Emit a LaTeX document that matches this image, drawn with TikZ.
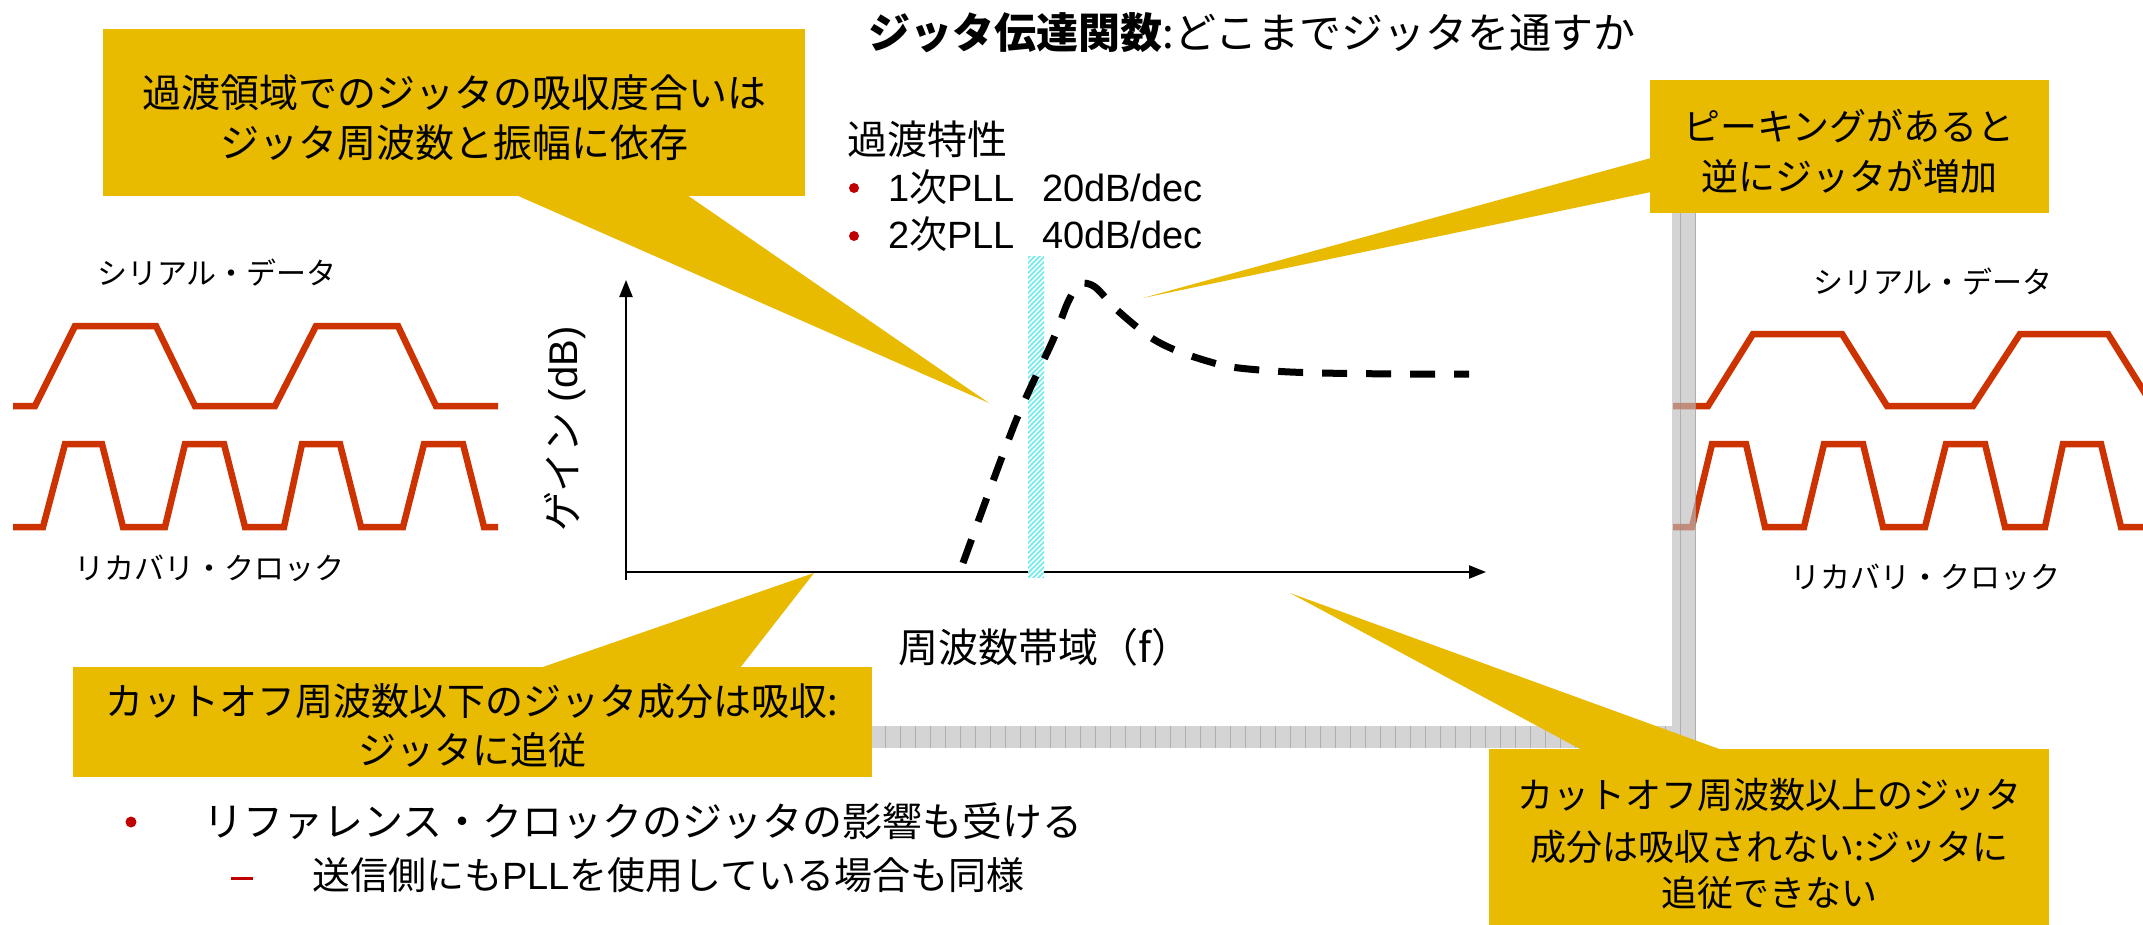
\documentclass[tikz,border=0pt]{standalone}
\usepackage{fontspec}
\setmainfont{Noto Sans CJK JP}
\newfontfamily\jpf{Noto Sans CJK JP}
\newfontfamily\lat{Liberation Sans}
\usetikzlibrary{arrows.meta}
\definecolor{callout}{RGB}{232,186,0}
\definecolor{wave}{RGB}{204,51,0}
\definecolor{bul}{RGB}{192,0,0}
\definecolor{bandc}{RGB}{110,236,236}
\newcommand{\setfs}[1]{\fontsize{#1}{#1}\selectfont}
\begin{document}
\begin{tikzpicture}[x=1pt,y=-1pt,
  txt/.style={inner sep=0pt,outer sep=0pt},
  wavepath/.style={draw=wave,line width=6.5pt,line join=miter},
  callbox/.style={fill=callout},
  axisline/.style={line width=2.2pt},
  curve/.style={line width=7pt,dash pattern=on 25pt off 19pt},
  hatch/.style={draw=bandc,line width=1.6pt}]
\useasboundingbox (0,0) rectangle (2143,925);
\fill[white] (0,0) rectangle (2143,925);

% ---------------- waveforms (left) ----------------
\draw[wavepath] (13,406) -- (35,406) -- (75,326) -- (156,326) -- (195,406) -- (275,406) -- (316,326) -- (398,326) -- (436,406) -- (498,406);
\draw[wavepath] (13,527) -- (43,527) -- (65,444) -- (102,444) -- (123,527) -- (165,527) -- (185,444) -- (224,444) -- (245,527) -- (284,527) -- (302,444) -- (340,444) -- (361,527) -- (403,527) -- (424,444) -- (463,444) -- (484,527) -- (498,527);
\node[txt] (sdL) at (217,273) {\setfs{30}シリアル・データ};
\node[txt] (rcL) at (209,568) {\setfs{30}リカバリ・クロック};

% ---------------- waveforms (right) ----------------
\draw[wavepath] (1673,406) -- (1708,406) -- (1753,334) -- (1842,334) -- (1887,406) -- (1973,406) -- (2020,334) -- (2108,334) -- (2153,406);
\draw[wavepath] (1673,527) -- (1692,527) -- (1712,444) -- (1746,444) -- (1765,527) -- (1804,527) -- (1824,444) -- (1863,444) -- (1883,527) -- (1925,527) -- (1946,444) -- (1985,444) -- (2005,527) -- (2045,527) -- (2063,444) -- (2101,444) -- (2121,527) -- (2150,527);
\node[txt] (sdR) at (1933,282) {\setfs{30}シリアル・データ};
\node[txt] (rcR) at (1925,577) {\setfs{30}リカバリ・クロック};

% ---------------- gray shadow frame ----------------
\begin{scope}
  \clip (1672,190) rectangle (1696,748) (860,726) rectangle (1696,748);
  \fill[black!26,opacity=0.65] (860,190) rectangle (1696,748);
  \draw[black!45,line width=0.8pt,opacity=0.5,step=15] (860,190) grid (1700,750);
\end{scope}

% ---------------- axes ----------------
\coordinate (ybot) at (626,580);
\coordinate (ytop) at (626,280);
\coordinate (xorg) at (626,572);
\coordinate (xtip) at (1486,572);
\draw[axisline,-{Triangle[length=17pt,width=13pt]}] (ybot) -- (ytop);
\draw[axisline,-{Triangle[length=17pt,width=13pt]}] (xorg) -- (xtip);

% cutoff band (hatched)
\fill[white] (1028,257) rectangle (1044,577);
\begin{scope}
  \clip (1028,257) rectangle (1044,577);
  \foreach \k in {0,5,...,345} {
    \draw[hatch] (1024,257+\k) -- (1048,233+\k);
  }
\end{scope}

% transfer curve
\draw[curve] plot[smooth,tension=0.5] coordinates {(963,563) (1015,423) (1053,340) (1068,302) (1080,284) (1095,287) (1117,310) (1150,337) (1180,352) (1226,366) (1273,371) (1320,373) (1400,374) (1469,374)};

\node[txt,rotate=90] (ylab) at (565,429) {\setfs{40}ゲイン\hspace{10pt}{\lat (dB)}};
\node[txt] (xlab) at (1045,647) {\setfs{40}周波数帯域（f）};

% ---------------- title & characteristic list ----------------
\node[txt] (title) at (1252,33) {\setfs{42}\textbf{ジッタ伝達関数}:どこまでジッタを通すか};
\node[txt,anchor=west] (kt) at (847,139) {\setfs{40}過渡特性};
\fill[bul] (854,188) circle (5);
\fill[bul] (854,236) circle (5);
\node[txt,anchor=base west] (p1) at (888,202) {\setfs{38}\lat 1{\jpf 次}PLL};
\node[txt,anchor=base west] (s1) at (1042,202) {\setfs{38}\lat 20dB/dec};
\node[txt,anchor=base west] (p2) at (888,249) {\setfs{38}\lat 2{\jpf 次}PLL};
\node[txt,anchor=base west] (s2) at (1042,249) {\setfs{38}\lat 40dB/dec};

% ---------------- callouts ----------------
\coordinate (tipA) at (989,403);
\fill[callbox] (103,29) rectangle (805,196);
\fill[callbox] (516,195) -- (tipA) -- (687,195) -- cycle;
\node[txt] (ca1) at (454,93) {\setfs{39}過渡領域でのジッタの吸収度合いは};
\node[txt] (ca2) at (454,143) {\setfs{39}ジッタ周波数と振幅に依存};

\coordinate (tipB) at (1143,298);
\fill[callbox] (1650,80) rectangle (2049,213);
\fill[callbox] (1651,158) -- (tipB) -- (1651,192) -- cycle;
\node[txt] (cb1) at (1849,126) {\setfs{37}ピーキングがあると};
\node[txt] (cb2) at (1849,176) {\setfs{37}逆にジッタが増加};

\coordinate (tipC) at (814,573);
\fill[callbox] (73,667) rectangle (872,777);
\fill[callbox] (540,668) -- (tipC) -- (740,668) -- cycle;
\node[txt] (cc1) at (472,701) {\setfs{38}カットオフ周波数以下のジッタ成分は吸収:};
\node[txt] (cc2) at (472,750) {\setfs{38}ジッタに追従};

\coordinate (tipD) at (1290,593);
\fill[callbox] (1489,749) rectangle (2049,930);
\fill[callbox] (1582,750) -- (tipD) -- (1722,750) -- cycle;
\node[txt] (cd1) at (1769,795) {\setfs{36}カットオフ周波数以上のジッタ};
\node[txt] (cd2) at (1769,847) {\setfs{36}成分は吸収されない:ジッタに};
\node[txt] (cd3) at (1769,893) {\setfs{36}追従できない};

% ---------------- bottom bullets ----------------
\fill[bul] (131,822) circle (5.5);
\node[txt,anchor=west] (bl1) at (203,821) {\setfs{40}リファレンス・クロックのジッタの影響も受ける};
\fill[bul] (231,876.5) rectangle (253,879.5);
\node[txt,anchor=west] (bl2) at (312,875) {\setfs{38}送信側にも{\lat PLL}を使用している場合も同様};
\end{tikzpicture}
\end{document}
